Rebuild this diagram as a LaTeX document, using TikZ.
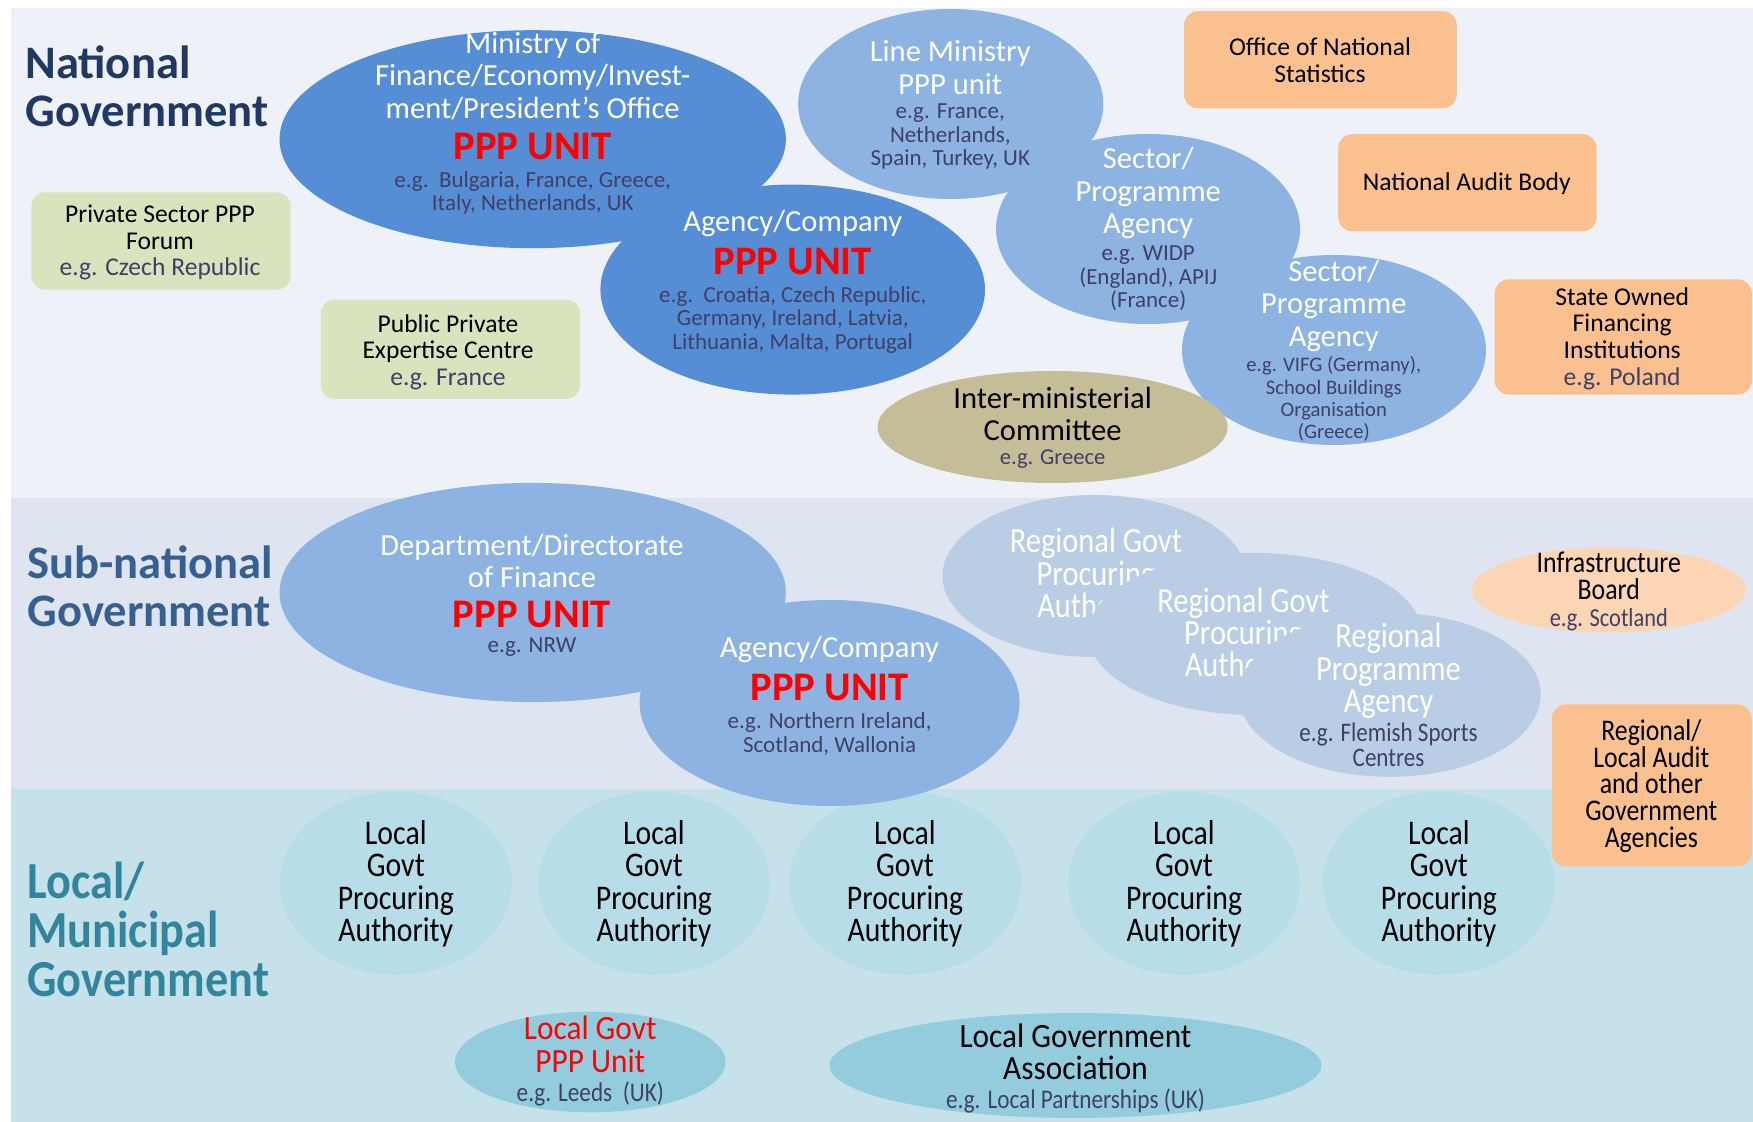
\documentclass[tikz,border=0pt]{standalone}
\usepackage{fontspec}
\setmainfont{Carlito}
\newfontfamily\condfont[FakeStretch=0.86]{Carlito}
\newfontfamily\labfont[FakeStretch=0.89]{Carlito}
\newfontfamily\wcondfont[FakeStretch=0.92]{Carlito}
\usetikzlibrary{shapes.geometric}
\definecolor{natbg}{HTML}{EEF1F7}
\definecolor{subbg}{HTML}{DEE5F0}
\definecolor{locbg}{HTML}{C6E1EA}
\definecolor{dblue}{HTML}{558ED5}
\definecolor{mblue}{HTML}{8DB3E2}
\definecolor{pblue}{HTML}{B9CDE5}
\definecolor{lcyan}{HTML}{B7DDE8}
\definecolor{mcyan}{HTML}{93CDDD}
\definecolor{khaki}{HTML}{C4BD97}
\definecolor{lgreen}{HTML}{D7E4BD}
\definecolor{orng}{HTML}{FAC090}
\definecolor{lorng}{HTML}{FCD5B5}
\definecolor{egcol}{HTML}{403F66}
\definecolor{natcol}{HTML}{1F3864}
\definecolor{subcol}{HTML}{366092}
\definecolor{loccol}{HTML}{31859C}
\definecolor{pppred}{HTML}{FF0000}
\begin{document}
\begin{tikzpicture}[x=0.5pt,y=-0.5pt,
  ell/.style={ellipse, draw=none, inner sep=0pt, fill=#1},
  rbox/.style={rectangle, rounded corners=7pt, draw=none, inner sep=0pt, fill=#1},
  tx/.style={align=center, inner sep=0pt},
  wt/.style={tx, text=white, font=\fontsize{15.3}{16.2}\selectfont},
  ppp/.style={tx, text=pppred, font=\fontsize{20.3}{22}\selectfont\bfseries},
  eg/.style={tx, text=egcol, font=\fontsize{11.5}{11.8}\selectfont},
  bx/.style={tx, text=black, font=\fontsize{12.8}{13.4}\selectfont},
  lab/.style={align=left, anchor=west, inner sep=0pt, font=\fontsize{23.3}{24}\selectfont\bfseries},
  lgt/.style={tx, text=black, font=\fontsize{17.3}{16.2}\selectfont\condfont},
  rgt/.style={tx, text=white, font=\fontsize{17.7}{16.2}\selectfont\condfont}
]
\useasboundingbox (0,0) rectangle (1753,1122);
\fill[white] (0,0) rectangle (1753,1122);
% bands
\fill[natbg] (11,8) rectangle (1753,498);
\fill[subbg] (11,498) rectangle (1753,789);
\fill[locbg] (11,789) rectangle (1753,1122);

% level labels
\node[lab, text=natcol] (natlab) at (25,86) {National\\Government};
\node[lab, text=subcol] (sublab) at (27,586) {Sub-national\\Government};
\node[lab, text=loccol, font=\fontsize{26}{24.5}\selectfont\bfseries\labfont] (loclab) at (27,929) {Local/\\Municipal\\Government};

% ---------- national ----------
\node[rbox=lgreen, minimum width=129.7pt, minimum height=48.7pt] (psf) at (161,241) {};
\node[bx] (psft) at (160,242.6) {Private Sector PPP\\Forum\\\textcolor{egcol}{e.g. Czech Republic}};
\node[rbox=lgreen, minimum width=129.7pt, minimum height=49.7pt] (pec) at (450.5,349.3) {};
\node[bx] (pect) at (448,352.2) {Public Private\\Expertise Centre\\\textcolor{egcol}{e.g. France}};

\node[ell=dblue, minimum width=253.2pt, minimum height=109pt] (min) at (532.7,139.2) {};
\node[ell=dblue, minimum width=192.3pt, minimum height=105pt] (agn) at (792.7,289.6) {};
\node[wt] (mint) at (532.7,76) {Ministry of\\Finance/Economy/Invest-\\ment/President’s Office};
\node[ppp] (minp) at (532.7,146.5) {PPP UNIT};
\node[eg] (mine) at (532.7,192.9) {e.g.\ \ Bulgaria, France, Greece,\\Italy, Netherlands, UK};
\node[wt] (agnt) at (792.7,223.6) {Agency/Company};
\node[ppp] (agnp) at (792.7,261.6) {PPP UNIT};
\node[eg] (agne) at (792.7,319.7) {e.g.\ \ Croatia, Czech Republic,\\Germany, Ireland, Latvia,\\Lithuania, Malta, Portugal};

\node[ell=mblue, minimum width=152.6pt, minimum height=95pt] (lmin) at (950.7,104) {};
\node[ell=mblue, minimum width=152pt, minimum height=95pt] (sec1) at (1148,229) {};
\node[ell=mblue, minimum width=152pt, minimum height=95pt] (sec2) at (1334,350) {};
\node[wt] (lmint) at (950.3,67.6) {Line Ministry\\PPP unit};
\node[eg] (lmine) at (950.3,136.6) {e.g. France,\\Netherlands,\\Spain, Turkey, UK};
\node[wt] (sec1t) at (1148.2,193.4) {Sector/\\Programme\\Agency};
\node[eg] (sec1e) at (1148.2,278.6) {e.g. WIDP\\(England), APIJ\\(France)};
\node[wt] (sec2t) at (1333.8,305.9) {Sector/\\Programme\\Agency};
\node[eg, font=\fontsize{10.3}{11.2}\selectfont] (sec2e) at (1333.8,399.1) {e.g. VIFG (Germany),\\School Buildings\\Organisation\\(Greece)};

\node[ell=khaki, minimum width=175pt, minimum height=56pt] (imc) at (1052.6,427) {};
\node[tx, font=\fontsize{15.3}{16.2}\selectfont] (imct) at (1052.6,414.2) {Inter-ministerial\\Committee};
\node[eg, font=\fontsize{11.3}{13}\selectfont] (imce) at (1052.6,459.5) {e.g. Greece};

\node[rbox=orng, minimum width=136.4pt, minimum height=48.6pt] (ons) at (1320.4,59.8) {};
\node[bx] (onst) at (1320,60.4) {Office of National\\Statistics};
\node[rbox=orng, minimum width=129.2pt, minimum height=48.6pt] (nab) at (1467.4,182.8) {};
\node[bx] (nabt) at (1466.8,183.4) {National Audit Body};
\node[rbox=orng, minimum width=128.6pt, minimum height=57.6pt] (sofi) at (1623.3,337) {};
\node[bx] (sofit) at (1622.2,338.7) {State Owned\\Financing\\Institutions\\\textcolor{egcol}{e.g. Poland}};

% ---------- local circles (under sub-national shapes) ----------
\foreach \i/\x in {a/395.8,b/654,c/905,d/1184,e/1438.9}{
  \node[ell=lcyan, minimum width=116pt, minimum height=91.7pt] (lg\i) at (\x,883.2) {};
  \node[lgt] (lg\i t) at (\x,883.8) {Local\\Govt\\Procuring\\Authority};
}

% ---------- sub-national ----------
\node[ell=mblue, minimum width=253.2pt, minimum height=109.6pt] (dep) at (532.7,592.5) {};
\node[ell=mblue, minimum width=190pt, minimum height=103pt] (ags) at (829.6,703) {};
\node[wt] (dept) at (532,560.7) {Department/Directorate\\of Finance};
\node[ppp] (depp) at (532,614.9) {PPP UNIT};
\node[eg] (depe) at (532,647.3) {e.g. NRW};
\node[wt] (agst) at (829.6,649.5) {Agency/Company};
\node[ppp] (agsp) at (829.6,687.6) {PPP UNIT};
\node[eg] (agse) at (829.6,734) {e.g. Northern Ireland,\\Scotland, Wallonia};

\node[ell=pblue, minimum width=152pt, minimum height=81pt] (rg1) at (1094.5,576) {};
\node[rgt] (rg1t) at (1096,575.8) {Regional Govt\\Procuring\\Authority};
\node[ell=pblue, minimum width=167pt, minimum height=81pt] (rg2) at (1255,634) {};
\node[rgt] (rg2t) at (1243.5,635) {Regional Govt\\Procuring\\Authority};
\node[ell=pblue, minimum width=151pt, minimum height=82pt] (rpa) at (1389.7,694.8) {};
\node[rgt] (rpat) at (1388.5,670.8) {Regional\\Programme\\Agency};
\node[eg, font=\fontsize{13.4}{12.3}\selectfont\condfont] (rpae) at (1388.5,744.6) {e.g. Flemish Sports\\Centres};

\node[ell=lorng, minimum width=137pt, minimum height=42.5pt] (ib) at (1609,590) {};
\node[tx, font=\fontsize{15}{13.4}\selectfont\condfont] (ibt) at (1608.8,591.4) {Infrastructure\\Board\\{\fontsize{13}{13.4}\selectfont\textcolor{egcol}{e.g. Scotland}}};

\node[rbox=orng, minimum width=100pt, minimum height=81pt] (rla) at (1651.8,785.4) {};
\node[tx, font=\fontsize{15}{13.4}\selectfont\condfont] (rlat) at (1651.3,786) {Regional/\\Local Audit\\and other\\Government\\Agencies};

% ---------- local bottom ----------
\node[ell=mcyan, minimum width=135.3pt, minimum height=50.3pt] (lpu) at (590.3,1062) {};
\node[tx, font=\fontsize{17}{16.3}\selectfont\wcondfont] (lput) at (590.3,1061) {\textcolor{pppred}{Local Govt}\\\textcolor{pppred}{PPP Unit}\\[-1.75pt]{\fontsize{13.5}{13}\selectfont\condfont\textcolor{egcol}{e.g. Leeds\ \ (UK)}}};
\node[ell=mcyan, minimum width=246pt, minimum height=52.5pt] (lga) at (1075.5,1065.5) {};
\node[tx, font=\fontsize{17}{16.3}\selectfont\wcondfont] (lgat) at (1075.5,1068.5) {Local Government\\Association\\[-1.75pt]{\fontsize{13.5}{13}\selectfont\condfont\textcolor{egcol}{e.g. Local Partnerships (UK)}}};
\end{tikzpicture}
\end{document}
